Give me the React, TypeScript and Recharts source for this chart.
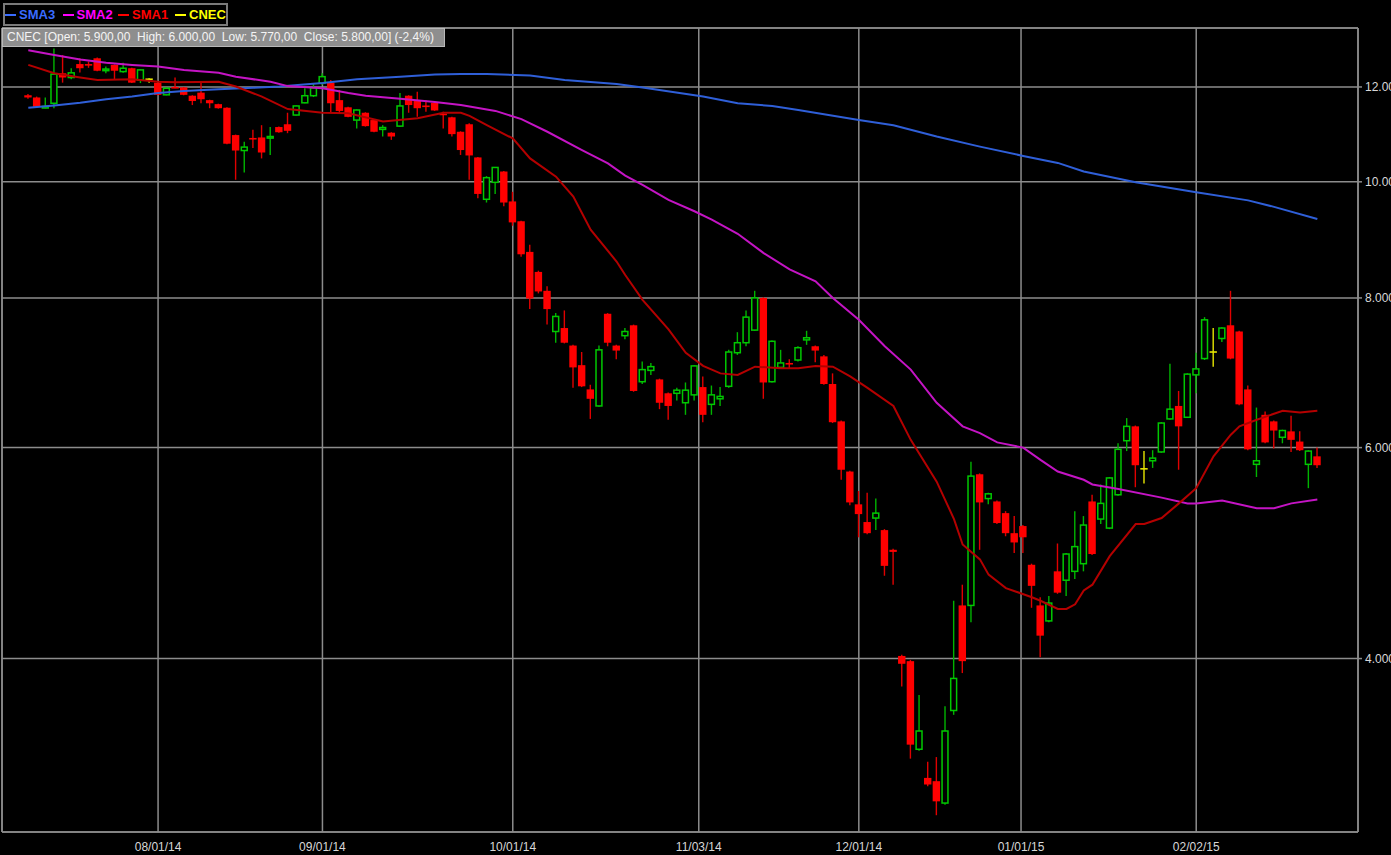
import React from "react";
import { Bar, CartesianGrid, ComposedChart, Line, ReferenceLine, XAxis, YAxis } from "recharts";

// daily candles (oldest first)
const opens = [
  11.81, 11.76, 11.54, 11.63, 12.32, 12.22, 12.54, 12.54, 12.68, 12.4,
  12.52, 12.36, 12.44, 12.16, 12.18, 12.1, 11.82, 12.0, 11.99, 11.8,
  11.87, 11.7, 11.61, 11.53, 10.94, 10.62, 10.88, 10.89, 10.89, 11.11,
  11.17, 11.37, 11.64, 11.8, 12.09, 12.1, 11.7, 11.54, 11.26, 11.42,
  11.26, 11.06, 10.99, 11.13, 11.8, 11.7, 11.58, 11.64, 11.4, 11.32,
  11.01, 11.17, 10.48, 9.67, 9.99, 10.2, 9.63, 9.27, 8.74, 8.41,
  8.11, 7.5, 7.55, 7.3, 7.03, 6.71, 6.5, 7.76, 7.3, 7.44,
  7.59, 6.81, 6.96, 6.84, 6.66, 6.66, 6.54, 6.64, 6.74, 6.52,
  6.59, 6.75, 7.2, 7.34, 7.52, 8.0, 6.81, 7.0, 7.06, 7.1,
  7.38, 7.29, 7.15, 6.78, 6.31, 5.73, 5.38, 5.2, 5.24, 5.12,
  4.93, 4.02, 3.98, 3.36, 3.18, 3.16, 3.03, 3.62, 4.43, 4.43,
  5.7, 5.44, 5.41, 5.29, 5.09, 5.16, 4.79, 4.43, 4.3, 4.73,
  4.65, 4.73, 4.8, 5.41, 5.23, 5.14, 5.48, 6.08, 6.25, 5.76,
  5.85, 5.95, 6.34, 6.5, 6.36, 6.9, 7.12, 7.21, 7.4, 7.59,
  7.5, 6.71, 5.81, 6.39, 6.31, 6.12, 6.19, 6.07, 5.81, 5.9,
];
const highs = [
  11.84, 11.78, 11.76, 12.92, 12.76, 12.44, 12.68, 12.6, 12.7, 12.48,
  12.53, 12.57, 12.45, 12.41, 12.2, 12.11, 11.98, 12.22, 12.0, 11.81,
  12.09, 11.71, 11.62, 11.54, 10.95, 10.8, 11.05, 11.15, 11.11, 11.12,
  11.42, 11.58, 11.97, 12.09, 12.32, 12.16, 11.93, 11.55, 11.49, 11.43,
  11.27, 11.15, 11.0, 11.86, 11.81, 11.89, 11.7, 11.65, 11.44, 11.33,
  11.02, 11.19, 10.49, 10.11, 10.29, 10.21, 9.81, 9.28, 8.86, 8.43,
  8.18, 7.77, 7.81, 7.31, 7.21, 6.77, 7.3, 7.77, 7.31, 7.55,
  7.6, 7.08, 7.06, 6.85, 6.67, 6.73, 6.8, 7.03, 6.88, 6.76,
  6.74, 7.24, 7.49, 7.81, 8.11, 8.01, 7.37, 7.24, 7.11, 7.29,
  7.51, 7.3, 7.17, 6.92, 6.32, 5.74, 5.52, 5.5, 5.44, 5.13,
  4.94, 4.03, 3.99, 3.73, 3.28, 3.31, 3.65, 4.47, 4.61, 5.84,
  5.71, 5.5, 5.42, 5.31, 5.26, 5.17, 4.8, 4.5, 4.51, 4.99,
  4.9, 5.31, 5.26, 5.48, 5.59, 5.67, 6.05, 6.35, 6.26, 5.96,
  5.97, 6.3, 7.05, 6.69, 6.92, 7.2, 7.71, 7.55, 7.56, 8.11,
  7.51, 6.76, 6.48, 6.43, 6.32, 6.21, 6.38, 6.19, 5.97, 6.0,
];
const lows = [
  11.73, 11.53, 11.52, 11.52, 12.1, 12.18, 12.34, 12.45, 12.37, 12.32,
  12.18, 12.33, 12.09, 12.09, 12.1, 11.81, 11.81, 11.97, 11.81, 11.59,
  11.63, 11.52, 11.51, 10.75, 10.04, 10.18, 10.67, 10.46, 10.53, 10.99,
  10.98, 11.36, 11.63, 11.77, 12.05, 11.42, 11.41, 11.32, 11.08, 11.12,
  11.0, 10.91, 10.84, 11.11, 11.42, 11.33, 11.44, 11.46, 11.08, 10.91,
  10.53, 10.04, 9.69, 9.61, 9.77, 9.54, 9.19, 8.66, 7.83, 8.07,
  7.6, 7.34, 7.33, 6.73, 6.74, 6.34, 6.49, 7.29, 7.11, 7.39,
  6.68, 6.78, 6.9, 6.46, 6.33, 6.57, 6.39, 6.57, 6.3, 6.39,
  6.5, 6.73, 7.17, 7.29, 7.51, 6.59, 6.8, 6.99, 6.98, 7.08,
  7.31, 7.07, 6.77, 6.29, 5.64, 5.37, 5.05, 5.08, 5.12, 4.69,
  4.61, 3.79, 3.3, 3.35, 3.13, 2.96, 3.02, 3.59, 3.89, 4.29,
  4.93, 5.38, 5.18, 5.06, 4.9, 4.9, 4.41, 4.01, 4.29, 4.53,
  4.51, 4.66, 4.73, 4.88, 5.18, 5.13, 5.47, 5.96, 5.56, 5.6,
  5.77, 5.94, 6.33, 5.75, 6.35, 6.66, 7.1, 7.01, 7.35, 7.11,
  6.51, 5.97, 5.67, 6.05, 5.99, 6.05, 5.95, 5.96, 5.55, 5.77,
];
const closes = [
  11.76, 11.55, 11.56, 12.3, 12.22, 12.33, 12.44, 12.52, 12.38, 12.42,
  12.38, 12.44, 12.1, 12.4, 12.18, 11.82, 11.97, 11.98, 11.82, 11.68,
  11.72, 11.63, 11.52, 10.76, 10.62, 10.69, 10.86, 10.58, 10.91, 11.0,
  11.03, 11.57, 11.8, 11.98, 12.24, 11.63, 11.46, 11.33, 11.48, 11.13,
  11.01, 11.1, 10.91, 11.57, 11.59, 11.52, 11.56, 11.47, 11.38, 10.96,
  10.63, 10.52, 9.77, 10.08, 10.28, 9.61, 9.25, 8.7, 7.99, 8.1,
  7.83, 7.72, 7.34, 7.0, 6.75, 6.59, 7.24, 7.34, 7.23, 7.5,
  6.69, 6.97, 7.01, 6.54, 6.5, 6.7, 6.7, 7.02, 6.39, 6.64,
  6.62, 7.21, 7.34, 7.71, 8.0, 6.8, 7.36, 7.06, 7.04, 7.27,
  7.41, 7.23, 6.78, 6.3, 5.75, 5.4, 5.28, 5.09, 5.29, 4.78,
  4.91, 3.96, 3.39, 3.48, 3.14, 3.04, 3.48, 3.85, 3.98, 5.68,
  5.4, 5.49, 5.19, 5.09, 5.0, 5.05, 4.6, 4.18, 4.45, 4.54,
  4.89, 4.96, 5.17, 4.89, 5.39, 5.66, 5.98, 6.25, 5.8, 5.76,
  5.88, 6.29, 6.46, 6.25, 6.91, 6.98, 7.67, 7.21, 7.55, 7.12,
  6.52, 5.98, 5.85, 6.06, 6.2, 6.2, 6.09, 5.97, 5.96, 5.8,
];

// moving averages, read at these candle positions: [candle, value]
const sma1Points: [number, number][] = [
  [0, 12.52], [3, 12.32], [6, 12.22], [8, 12.16], [12, 12.18], [15, 12.12], [17, 12.11],
  [22, 12.12], [24, 12.01], [27, 11.78], [30, 11.5], [34, 11.42], [37, 11.41], [41, 11.23],
  [45, 11.3], [48, 11.42], [50, 11.42], [51, 11.35], [53, 11.15], [56, 10.87], [58, 10.46],
  [61, 10.1], [63, 9.72], [65, 9.12], [68, 8.58], [69, 8.36], [71, 7.97], [74, 7.53],
  [76, 7.2], [78, 7.02], [80, 6.92], [82, 6.9], [84, 7.01], [87, 6.99], [89, 6.99],
  [91, 7.02], [93, 7.01], [95, 6.88], [97, 6.73], [100, 6.5], [102, 6.09], [105, 5.62],
  [107, 5.23], [108, 4.98], [110, 4.84], [111, 4.7], [113, 4.58], [116, 4.5], [117, 4.47],
  [119, 4.4], [120, 4.4], [121, 4.44], [122, 4.56], [123, 4.61], [125, 4.87], [128, 5.18],
  [129, 5.18], [131, 5.24], [133, 5.39], [135, 5.55], [137, 5.9], [139, 6.15], [140, 6.25],
  [142, 6.33], [145, 6.44], [147, 6.42], [149, 6.44],
];
const sma2Points: [number, number][] = [
  [0, 12.88], [3, 12.76], [6, 12.65], [9, 12.57], [12, 12.52], [15, 12.48], [18, 12.4],
  [22, 12.33], [24, 12.24], [28, 12.12], [30, 12.02], [34, 11.97], [37, 11.86], [39, 11.8],
  [43, 11.73], [47, 11.66], [50, 11.59], [54, 11.46], [57, 11.28], [60, 11.01], [64, 10.63],
  [67, 10.36], [69, 10.12], [71, 9.94], [74, 9.66], [77, 9.45], [79, 9.3], [82, 9.05],
  [85, 8.72], [88, 8.45], [91, 8.26], [93, 8.0], [96, 7.67], [99, 7.29], [102, 6.97],
  [105, 6.54], [108, 6.25], [110, 6.17], [112, 6.06], [115, 6.0], [117, 5.86], [119, 5.73],
  [122, 5.64], [123, 5.59], [126, 5.54], [131, 5.45], [134, 5.39], [135, 5.39], [138, 5.42],
  [142, 5.34], [144, 5.34], [146, 5.39], [149, 5.43],
];
const sma3Points: [number, number][] = [
  [0, 11.53], [3, 11.58], [6, 11.64], [9, 11.72], [12, 11.78], [15, 11.86], [18, 11.91],
  [22, 11.95], [26, 11.98], [29, 12.01], [34, 12.09], [38, 12.18], [43, 12.24], [47, 12.29],
  [50, 12.3], [53, 12.3], [58, 12.27], [62, 12.16], [68, 12.07], [71, 11.99], [78, 11.78],
  [82, 11.63], [86, 11.57], [89, 11.48], [96, 11.26], [100, 11.15], [105, 10.91], [110, 10.7],
  [115, 10.51], [119, 10.37], [122, 10.2], [128, 9.99], [135, 9.8], [141, 9.65], [144, 9.53],
  [149, 9.31],
];

const xTickIndex = [15, 34, 56, 77.5, 96, 114.75, 135];
const xTickLabels = ["08/01/14", "09/01/14", "10/01/14", "11/03/14", "12/01/14", "01/01/15", "02/02/15"];
const yTicks = [4, 6, 8, 10, 12];
const yTickLabels = ["4.000,00", "6.000,00", "8.000,00", "10.000,00", "12.000,00"];

const xDomain: [number, number] = [-3.04, 153.7];
const yDomain: [number, number] = [2.866, 13.44];

const GRID = "#8c8c8c";
const FONT = "'Liberation Sans', Arial, sans-serif";

const data = opens.map((open, i) => ({
  i,
  open,
  high: highs[i],
  low: lows[i],
  close: closes[i],
  sma1: null as number | null,
  sma2: null as number | null,
  sma3: null as number | null,
}));
sma1Points.forEach(([i, v]) => (data[i].sma1 = v));
sma2Points.forEach(([i, v]) => (data[i].sma2 = v));
sma3Points.forEach(([i, v]) => (data[i].sma3 = v));

function Candle(props: any) {
  const { x, y, width, height, payload } = props;
  if (!payload || x == null || y == null) return null;
  const { open, close, high, low } = payload;
  const top = Math.min(y, y + height);
  const bot = Math.max(y, y + height);
  const lh = Math.log(high);
  const span = lh - Math.log(low) || 1;
  const toY = (v: number) => top + ((bot - top) * (lh - Math.log(v))) / span;
  const cx = x + width / 2;
  const bw = 7.4;
  const yo = toY(open);
  const yc = toY(close);

  if (open === close) {
    return (
      <g>
        <line x1={cx} x2={cx} y1={top} y2={bot} stroke="#e6e600" strokeWidth={1.4} />
        <line x1={cx - bw / 2} x2={cx + bw / 2} y1={yo} y2={yo} stroke="#e6e600" strokeWidth={1.6} />
      </g>
    );
  }
  const up = close > open;
  const bTop = Math.min(yo, yc);
  const bH = Math.max(Math.abs(yo - yc), 1.6);
  if (up) {
    return (
      <g>
        <line x1={cx} x2={cx} y1={top} y2={bot} stroke="#00b400" strokeWidth={1.4} />
        <rect x={cx - bw / 2 + 0.75} y={bTop} width={bw - 1.5} height={bH} fill="#000" stroke="#00c800" strokeWidth={1.5} />
      </g>
    );
  }
  return (
    <g>
      <line x1={cx} x2={cx} y1={top} y2={bot} stroke="#e00000" strokeWidth={1.4} />
      <rect x={cx - bw / 2} y={bTop} width={bw} height={bH} fill="#ff0000" />
    </g>
  );
}

const legendItems = [
  { name: "SMA3", color: "#3a6cff", left: 0 },
  { name: "SMA2", color: "#ff00ff", left: 57.5 },
  { name: "SMA1", color: "#ff0000", left: 113 },
  { name: "CNEC", color: "#ffff00", left: 170 },
];

export default function App() {
  return (
    <div style={{ position: "absolute", left: 0, top: 0, width: 1391, height: 855, background: "#000", overflow: "hidden" }}>
      <ComposedChart width={1391} height={855} data={data} margin={{ top: 28, right: 0, bottom: 0, left: 2 }}>
        <CartesianGrid stroke={GRID} strokeWidth={1.5} />
        <XAxis
          type="number"
          dataKey="i"
          domain={xDomain}
          allowDataOverflow
          ticks={xTickIndex}
          interval={0}
          tickFormatter={(v: number) => xTickLabels[xTickIndex.indexOf(v)] ?? ""}
          height={23}
          tickLine={false}
          tickSize={0}
          tickMargin={10}
          axisLine={{ stroke: GRID, strokeWidth: 1.5 }}
          tick={{ fill: "#d8d8d8", fontSize: 12, fontFamily: FONT }}
        />
        <YAxis
          orientation="right"
          type="number"
          scale="log"
          domain={yDomain}
          allowDataOverflow
          ticks={yTicks}
          interval={0}
          tickFormatter={(v: number) => yTickLabels[yTicks.indexOf(v)] ?? ""}
          width={33}
          tickSize={4}
          tickMargin={3}
          tickLine={{ stroke: GRID, strokeWidth: 1.5 }}
          axisLine={{ stroke: GRID, strokeWidth: 1.5 }}
          tick={{ fill: "#d8d8d8", fontSize: 12, fontFamily: FONT, textAnchor: "start" }}
        />
        <ReferenceLine x={xDomain[0]} stroke={GRID} strokeWidth={1.5} />
        <ReferenceLine y={yDomain[1]} stroke={GRID} strokeWidth={1.5} />
        <Bar dataKey={(d: any) => [d.low, d.high]} shape={<Candle />} barSize={8} isAnimationActive={false} />
        <Line type="linear" dataKey="sma3" stroke="#2f5fd8" strokeWidth={2} dot={false} connectNulls isAnimationActive={false} />
        <Line type="linear" dataKey="sma2" stroke="#c414c4" strokeWidth={2} dot={false} connectNulls isAnimationActive={false} />
        <Line type="linear" dataKey="sma1" stroke="#b40000" strokeWidth={2} dot={false} connectNulls isAnimationActive={false} />
      </ComposedChart>

      <div
        style={{
          position: "absolute",
          left: 3,
          top: 3,
          width: 221,
          height: 19,
          border: "2px solid #7a7a7a",
          background: "#000",
          fontFamily: FONT,
          fontWeight: "bold",
          fontSize: 13,
        }}
      >
        {legendItems.map((it) => (
          <span
            key={it.name}
            style={{ position: "absolute", left: it.left, top: 0, height: 19, color: it.color, display: "flex", alignItems: "center", whiteSpace: "nowrap" }}
          >
            <span style={{ display: "inline-block", width: 11, height: 2, background: it.color, marginRight: 3 }} />
            {it.name}
          </span>
        ))}
      </div>

      <div
        style={{
          position: "absolute",
          left: 2,
          top: 28,
          width: 437,
          height: 17,
          paddingLeft: 4,
          border: "1px solid #b8b8b8",
          background: "#8e8e8e",
          color: "#f4f4f4",
          fontFamily: FONT,
          fontSize: 12,
          lineHeight: "17px",
          whiteSpace: "pre",
          overflow: "hidden",
        }}
      >
        {"CNEC [Open: 5.900,00  High: 6.000,00  Low: 5.770,00  Close: 5.800,00] (-2,4%)"}
      </div>
    </div>
  );
}
